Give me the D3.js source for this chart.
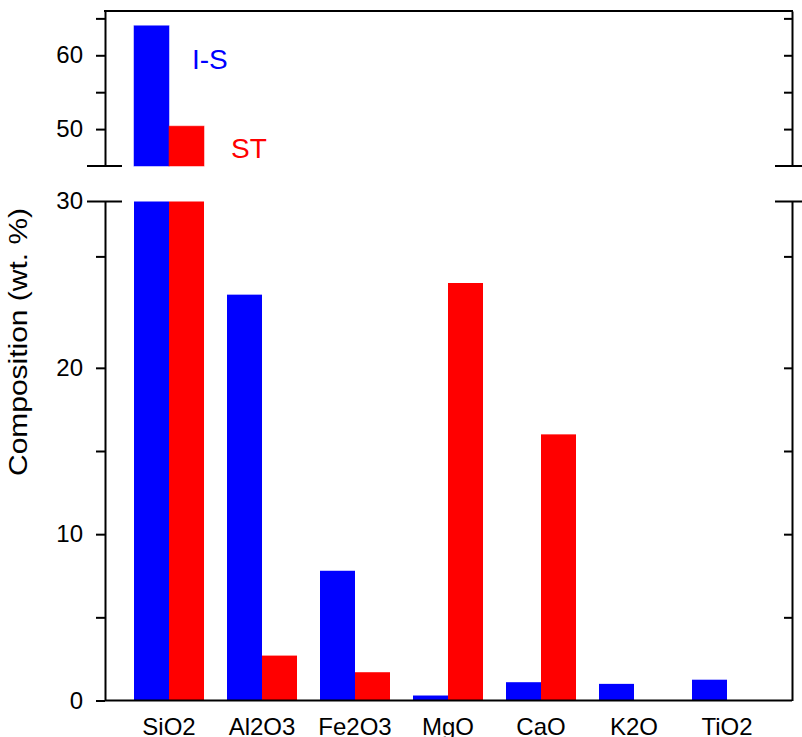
<!DOCTYPE html>
<html>
<head>
<meta charset="utf-8">
<script src="https://cdn.jsdelivr.net/npm/d3@7"></script>
<style>
body { margin: 0; background: #fff; }
text { font-family: "Liberation Sans", Arial, sans-serif; }
.axis path, .axis line { stroke: #000; stroke-width: 2; }
</style>
</head>
<body>
<div id="graph"></div>
<script>
// data
var oxides = ["SiO2", "Al2O3", "Fe2O3", "MgO", "CaO", "K2O", "TiO2"];
var seriesNames = ["I-S", "ST"];
var isValues = [64.0, 24.4, 7.8, 0.3, 1.1, 1.0, 1.25];
var stValues = [50.4, 2.7, 1.7, 25.1, 16.0, 0, 0];
var lowTicks = [0, 10, 20, 30];
var lowMinor = [5, 15, 26.7];
var topTicks = [50, 60];
var topMinor = [55, 65];
var colors = ["#0000ff", "#ff0000"];

var width = 802, height = 737;
var left = 105, right = 792;

var svg = d3.select("#graph").append("svg")
    .attr("width", width)
    .attr("height", height);

// x scales
var x = d3.scaleBand()
    .domain(oxides)
    .range([122.5, 773.5])
    .paddingInner(0.2473)
    .paddingOuter(0.1237);
var x1 = d3.scaleBand()
    .domain(seriesNames)
    .range([0, x.bandwidth()]);

// two y scales, broken axis
var yLow = d3.scaleLinear().domain([0, 30]).range([700.5, 201.5]);
var yTop = d3.scaleLinear().domain([45, 66]).range([166, 11]);

var rows = [];
oxides.forEach(function(o, i) {
    rows.push({oxide: o, name: "I-S", value: isValues[i]});
    rows.push({oxide: o, name: "ST", value: stValues[i]});
});

var color = d3.scaleOrdinal().domain(seriesNames).range(colors);

// lower panel bars (clipped at 30)
svg.selectAll(".bar-low")
    .data(rows.filter(function(d) { return d.value > 0; }))
    .enter().append("rect")
    .attr("class", "bar-low")
    .attr("x", function(d) { return x(d.oxide) + x1(d.name); })
    .attr("width", x1.bandwidth())
    .attr("y", function(d) { return yLow(Math.min(d.value, 30)); })
    .attr("height", function(d) { return yLow(0) - yLow(Math.min(d.value, 30)); })
    .attr("fill", function(d) { return color(d.name); });

// upper panel bars
svg.selectAll(".bar-top")
    .data(rows.filter(function(d) { return d.value > 45; }))
    .enter().append("rect")
    .attr("class", "bar-top")
    .attr("x", function(d) { return x(d.oxide) + x1(d.name); })
    .attr("width", x1.bandwidth())
    .attr("y", function(d) { return yTop(d.value); })
    .attr("height", function(d) { return yTop(45) - yTop(d.value); })
    .attr("fill", function(d) { return color(d.name); })
    .attr("stroke", function(d) { return color(d.name); })
    .attr("stroke-opacity", 0.5)
    .attr("stroke-width", 1);

// left axes
function leftAxis(scale, ticks, minor) {
    var g = svg.append("g").attr("class", "axis")
        .attr("transform", "translate(" + left + ",0)");
    g.call(d3.axisLeft(scale).tickValues(ticks).tickSize(9).tickSizeOuter(0).tickPadding(13));
    g.selectAll("text").attr("font-size", 24).attr("fill", "#000");
    var m = svg.append("g").attr("class", "axis")
        .attr("transform", "translate(" + left + ",0)");
    m.call(d3.axisLeft(scale).tickValues(minor).tickSize(9).tickSizeOuter(0).tickFormat(""));
    m.select(".domain").remove();
}
leftAxis(yTop, topTicks, topMinor);
leftAxis(yLow, lowTicks.filter(function(t) { return t < 30; }), lowMinor);

// label "30" sits on the break line
svg.append("text")
    .attr("x", left - 22)
    .attr("y", yLow(30))
    .attr("dy", "0.32em")
    .attr("text-anchor", "end")
    .attr("font-size", 24)
    .text("30");

// right axes (ticks inward)
function rightAxis(scale, ticks) {
    var g = svg.append("g").attr("class", "axis")
        .attr("transform", "translate(" + right + ",0)");
    g.call(d3.axisLeft(scale).tickValues(ticks).tickSize(0).tickSizeOuter(0).tickFormat(""));
    g.selectAll(".tick line").attr("x2", -8);
}
rightAxis(yTop, topTicks.concat(topMinor));
rightAxis(yLow, lowMinor.concat([10, 20]));

// top frame line
svg.append("line")
    .attr("x1", left - 1).attr("x2", right + 1)
    .attr("y1", 11).attr("y2", 11)
    .attr("stroke", "#000").attr("stroke-width", 2);

// break marks
[yTop(45), yLow(30)].forEach(function(yy) {
    svg.append("line")
        .attr("x1", left - 18).attr("x2", left + 17)
        .attr("y1", yy).attr("y2", yy)
        .attr("stroke", "#000").attr("stroke-width", 2);
    svg.append("line")
        .attr("x1", right - 17).attr("x2", right + 17)
        .attr("y1", yy).attr("y2", yy)
        .attr("stroke", "#000").attr("stroke-width", 2);
});

// x axis
var xa = svg.append("g").attr("class", "axis")
    .attr("transform", "translate(0," + yLow(0) + ")")
    .call(d3.axisBottom(x).tickSize(0).tickPadding(17).tickSizeOuter(0));
xa.select(".domain").attr("d", "M" + left + ",0H" + right);
xa.selectAll("text").attr("font-size", 24).attr("fill", "#000");

// y label
svg.append("text")
    .attr("transform", "translate(27,342) rotate(-90)")
    .attr("text-anchor", "middle")
    .attr("font-size", 25)
    .attr("textLength", 268)
    .attr("lengthAdjust", "spacingAndGlyphs")
    .text("Composition (wt. %)");

// series labels
svg.append("text")
    .attr("x", 192).attr("y", 69)
    .attr("font-size", 28)
    .attr("fill", colors[0])
    .text(seriesNames[0]);
svg.append("text")
    .attr("x", 231).attr("y", 158)
    .attr("font-size", 28)
    .attr("fill", colors[1])
    .text(seriesNames[1]);
</script>
</body>
</html>
